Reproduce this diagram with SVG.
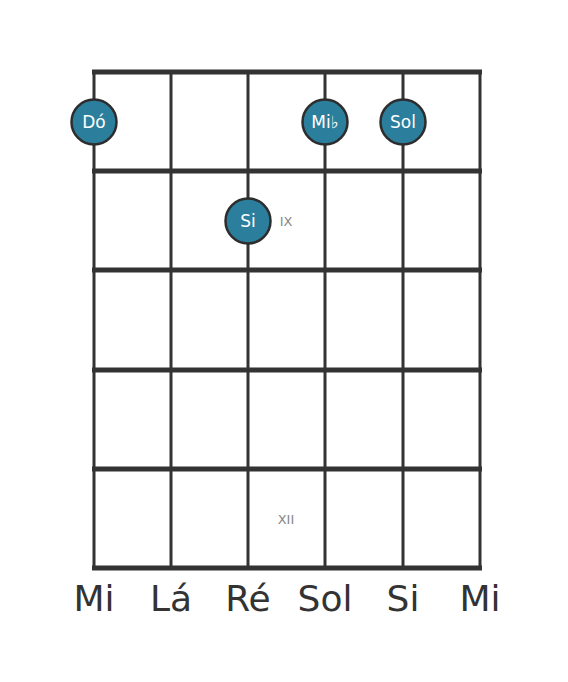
<svg xmlns="http://www.w3.org/2000/svg" width="568" height="682" viewBox="0 0 568 682">
<style>
.fret{stroke:#333;stroke-width:5}
.str{stroke:#333;stroke-width:3}
.dot circle{fill:#2b7e9c;stroke:#2d2d2d;stroke-width:2.5}
.dot text{fill:#fff;font-family:"DejaVu Sans",sans-serif;font-size:17px;text-anchor:middle}
.pos{fill:#888;font-family:"DejaVu Sans",sans-serif;font-size:13px;text-anchor:middle}
.name{fill:#333;font-family:"DejaVu Sans",sans-serif;font-size:36px;text-anchor:middle}
</style>
<rect width="568" height="682" fill="#fff"/>
<g id="grid">
<line class="str" x1="94" y1="72" x2="94" y2="568"/>
<line class="str" x1="171" y1="72" x2="171" y2="568"/>
<line class="str" x1="248" y1="72" x2="248" y2="568"/>
<line class="str" x1="325" y1="72" x2="325" y2="568"/>
<line class="str" x1="403" y1="72" x2="403" y2="568"/>
<line class="str" x1="480" y1="72" x2="480" y2="568"/>
<line class="fret" x1="92" y1="72" x2="482" y2="72"/>
<line class="fret" x1="92" y1="171" x2="482" y2="171"/>
<line class="fret" x1="92" y1="270" x2="482" y2="270"/>
<line class="fret" x1="92" y1="370" x2="482" y2="370"/>
<line class="fret" x1="92" y1="469" x2="482" y2="469"/>
<line class="fret" x1="92" y1="568" x2="482" y2="568"/>
</g>
<g id="connectors"></g>
<g id="dot-do" class="dot"><circle cx="94" cy="122" r="22.5"/><text x="94" y="128">Dó</text></g>
<g id="dot-mib" class="dot"><circle cx="325" cy="122" r="22.5"/><text x="325" y="128">Mi♭</text></g>
<g id="dot-sol" class="dot"><circle cx="403" cy="122" r="22.5"/><text x="403" y="128">Sol</text></g>
<g id="dot-si" class="dot"><circle cx="248" cy="221" r="22.5"/><text x="248" y="227">Si</text></g>
<g id="positions">
<text class="pos" x="286" y="226">IX</text>
<text class="pos" x="286" y="524">XII</text>
</g>
<g id="names">
<text class="name" x="94" y="611">Mi</text>
<text class="name" x="171" y="611">Lá</text>
<text class="name" x="248" y="611">Ré</text>
<text class="name" x="325" y="611">Sol</text>
<text class="name" x="403" y="611">Si</text>
<text class="name" x="480" y="611">Mi</text>
</g>
</svg>
